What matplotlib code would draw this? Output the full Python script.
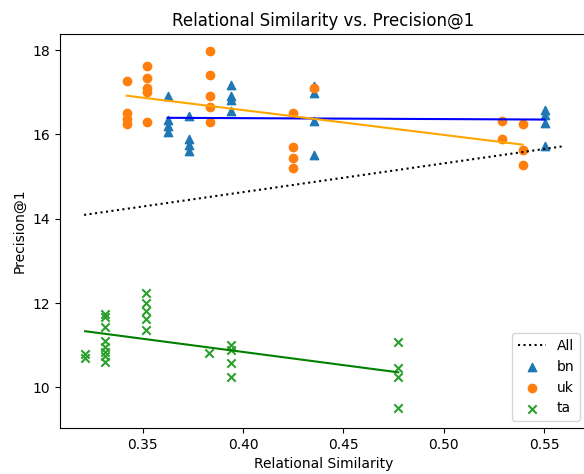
import numpy as np
import matplotlib
matplotlib.use("Agg")
import matplotlib.pyplot as plt

# relational similarity / precision@1 per language
bn_x = [0.3624] * 4 + [0.3732] * 4 + [0.394] * 4 + [0.4355] * 4 + [0.5502] * 4
bn_y = [16.91, 16.34, 16.20, 16.06,
        16.44, 15.88, 15.74, 15.61,
        17.16, 16.90, 16.81, 16.55,
        17.15, 16.98, 16.31, 15.52,
        16.58, 16.45, 16.27, 15.72]

uk_x = [0.342] * 4 + [0.352] * 5 + [0.3835] * 5 + [0.425] * 4 + [0.4355] + [0.5291] * 2 + [0.5392] * 3
uk_y = [17.27, 16.50, 16.37, 16.24,
        17.63, 17.34, 17.10, 17.01, 16.30,
        17.98, 17.40, 16.92, 16.66, 16.30,
        16.50, 15.71, 15.45, 15.20,
        17.09,
        16.31, 15.88,
        16.24, 15.63, 15.27]

ta_x = [0.3213] * 2 + [0.3312] * 8 + [0.3516] * 5 + [0.3832] + [0.394] * 4 + [0.4773] * 4
ta_y = [10.80, 10.70,
        11.75, 11.68, 11.42, 11.10, 10.95, 10.85, 10.74, 10.61,
        12.24, 11.99, 11.80, 11.61, 11.36,
        10.82,
        11.00, 10.89, 10.58, 10.25,
        11.07, 10.45, 10.25, 9.50]

# fit over every language (incl. ones not drawn), read as end points
all_x = [0.3208, 0.5598]
all_y = [14.09, 15.72]

langs = [('bn', bn_x, bn_y, '^', 'blue'),
         ('uk', uk_x, uk_y, 'o', 'orange'),
         ('ta', ta_x, ta_y, 'x', 'green')]

fig = plt.figure(figsize=(5.84, 4.74), dpi=100)
# right edge of the axes runs just past the image, as in the original crop
ax = fig.add_axes([60 / 584, 46 / 474, 527 / 584, 394 / 474])

ax.plot(all_x, all_y, 'k:', label='All')
for name, x, y, marker, line_color in langs:
    x = np.array(x)
    y = np.array(y)
    ax.scatter(x, y, marker=marker, label=name)
    m, b = np.polyfit(x, y, 1)
    ax.plot(x, m * x + b, color=line_color)

ax.set_xlim(0.3088, 0.5713)
ax.set_ylim(9.036, 18.38)
ax.set_title('Relational Similarity vs. Precision@1')
ax.set_xlabel('Relational Similarity')
ax.set_ylabel('Precision@1')
ax.legend(loc='lower right')

fig.savefig('out.png', dpi=100)
